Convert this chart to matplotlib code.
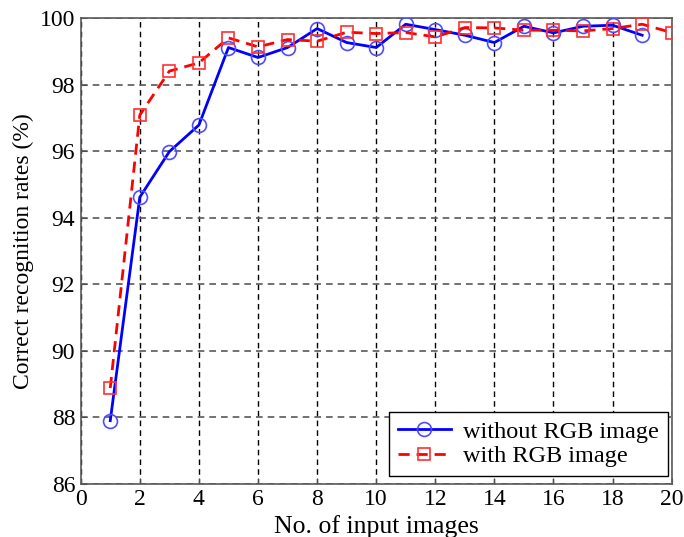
import matplotlib
matplotlib.use("Agg")
import matplotlib.pyplot as plt

x = list(range(1, 21))
without_rgb = [87.9, 94.62, 95.99, 96.79, 99.12, 98.82, 99.12, 99.69, 99.27, 99.12,
               99.82, 99.66, 99.49, 99.27, 99.76, 99.56, 99.76, 99.79, 99.49]
with_rgb = [88.88, 97.09, 98.41, 98.66, 99.41, 99.14, 99.36, 99.31, 99.58, 99.54,
            99.57, 99.44, 99.72, 99.71, 99.64, 99.64, 99.62, 99.69, 99.82, 99.57]
xticks = list(range(0, 21, 2))
yticks = list(range(86, 101, 2))

plt.rcParams['font.family'] = ['Liberation Serif', 'DejaVu Serif']

fig = plt.figure(figsize=(6.84, 5.37), dpi=100)
ax = fig.add_axes([0.118, 0.099, 0.864, 0.867])

ax.plot(x[:len(without_rgb)], without_rgb, color='#0000ff', lw=2, marker='o',
        markersize=10, markerfacecolor='none', markeredgecolor='#4d4dff',
        markeredgewidth=1.2, label='without RGB image', zorder=3)
ax.plot(x[:len(with_rgb)], with_rgb, color='#ff0000', lw=2, ls=(0, (4, 2.5)), marker='s',
        markersize=9, markerfacecolor='none', markeredgecolor='#ff3030',
        markeredgewidth=1.2, label='with RGB image', zorder=3)

ax.set_xlim(0, 20)
ax.set_ylim(86, 100)
ax.set_xticks(xticks)
ax.set_yticks(yticks)
ax.tick_params(direction='in', labelsize=17, length=4, color='0.3', pad=4)
ax.xaxis.grid(True, color='black', ls=(0, (4, 3)), lw=1)
ax.yaxis.grid(True, color='0.35', ls=(0, (4, 3)), lw=1.2)
for s in ax.spines.values():
    s.set_color('0.35')
    s.set_linewidth(1.2)

ax.set_ylabel('Correct recognition rates (%)', fontsize=17, labelpad=4)
ax.set_xlabel('No. of input images', fontsize=18.5, labelpad=3)

leg = ax.legend(loc='lower right', bbox_to_anchor=(0.993, 0.017), borderaxespad=0,
                fontsize=17.5, fancybox=False, edgecolor='black', framealpha=1,
                handlelength=2.2, borderpad=0.35, labelspacing=0.1, handletextpad=0.5)
leg.get_frame().set_linewidth(1.0)

fig.savefig('out.png', dpi=100)
